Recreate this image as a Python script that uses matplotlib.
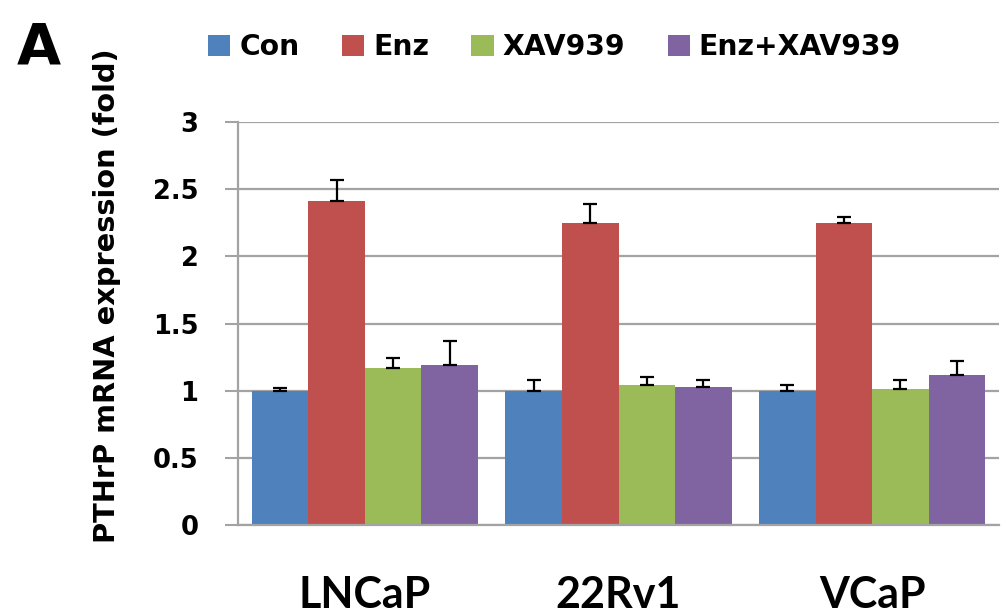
import matplotlib
matplotlib.use("Agg")
import matplotlib.pyplot as plt
import numpy as np

# DATA
cells = ["LNCaP", "22Rv1", "VCaP"]
groups = ["Con", "Enz", "XAV939", "Enz+XAV939"]
con = [1.00, 1.00, 1.00]
enz = [2.41, 2.25, 2.25]
xav = [1.17, 1.04, 1.01]
enz_xav = [1.19, 1.03, 1.12]
con_err = [0.02, 0.08, 0.04]
enz_err = [0.16, 0.14, 0.04]
xav_err = [0.07, 0.06, 0.07]
enz_xav_err = [0.18, 0.05, 0.10]
yticks = [0, 0.5, 1, 1.5, 2, 2.5, 3]
ytick_labels = ["0", "0.5", "1", "1.5", "2", "2.5", "3"]

colors = ["#4F81BD", "#C0504D", "#9BBB59", "#8064A2"]
grid_col = "#a3a3a3"

# FIGURE
fig = plt.figure(figsize=(10.06, 6.14), dpi=100)
ax = fig.add_axes([238 / 1006, 1 - 525 / 614, 761 / 1006, 403 / 614])

x = np.arange(len(cells))
w = 0.223
values = [con, enz, xav, enz_xav]
errors = [con_err, enz_err, xav_err, enz_xav_err]
handles = []
for i, (vals, errs) in enumerate(zip(values, errors)):
    pos = x + (i - 1.5) * w
    b = ax.bar(pos, vals, width=w, color=colors[i], label=groups[i], zorder=2)
    ax.errorbar(pos, vals, yerr=[np.zeros(len(errs)), errs], fmt="none",
                ecolor="black", elinewidth=1.6, capsize=4.7, capthick=1.6, zorder=3)
    handles.append(b)

ax.set_xlim(-0.5, 2.5)
ax.set_ylim(0, 3)
ax.set_yticks(yticks)
ax.set_yticklabels(ytick_labels, fontsize=18.5, fontweight="bold")
ax.yaxis.grid(True, color=grid_col, linewidth=1.6)
ax.set_axisbelow(True)
ax.tick_params(axis="y", length=9.5, width=1.5, color=grid_col, pad=19)
ax.set_xticks(x)
ax.set_xticklabels(cells, family=["Lato", "DejaVu Sans"], fontsize=31, fontweight="bold")
ax.tick_params(axis="x", length=0, pad=36)
for s in ["top", "right"]:
    ax.spines[s].set_visible(False)
ax.spines["left"].set_color(grid_col)
ax.spines["left"].set_linewidth(1.6)
ax.spines["bottom"].set_color(grid_col)
ax.spines["bottom"].set_linewidth(1.6)

fig.text(107 / 1006, 1 - 296 / 614, "PTHrP mRNA expression (fold)", rotation=90,
         ha="center", va="center", fontsize=20.8, fontweight="bold")

fig.legend(handles=handles, loc="center left", bbox_to_anchor=(208 / 1006, 1 - 47 / 614),
           ncol=4, frameon=False, borderpad=0, borderaxespad=0,
           prop={"size": 20.3, "weight": "bold"}, handlelength=0.79, handleheight=0.79,
           handletextpad=0.32, columnspacing=1.5)

fig.text(17 / 1006, 1 - 65 / 614, "A", fontsize=41, fontweight="bold", va="baseline")

fig.savefig("out.png", dpi=100)
